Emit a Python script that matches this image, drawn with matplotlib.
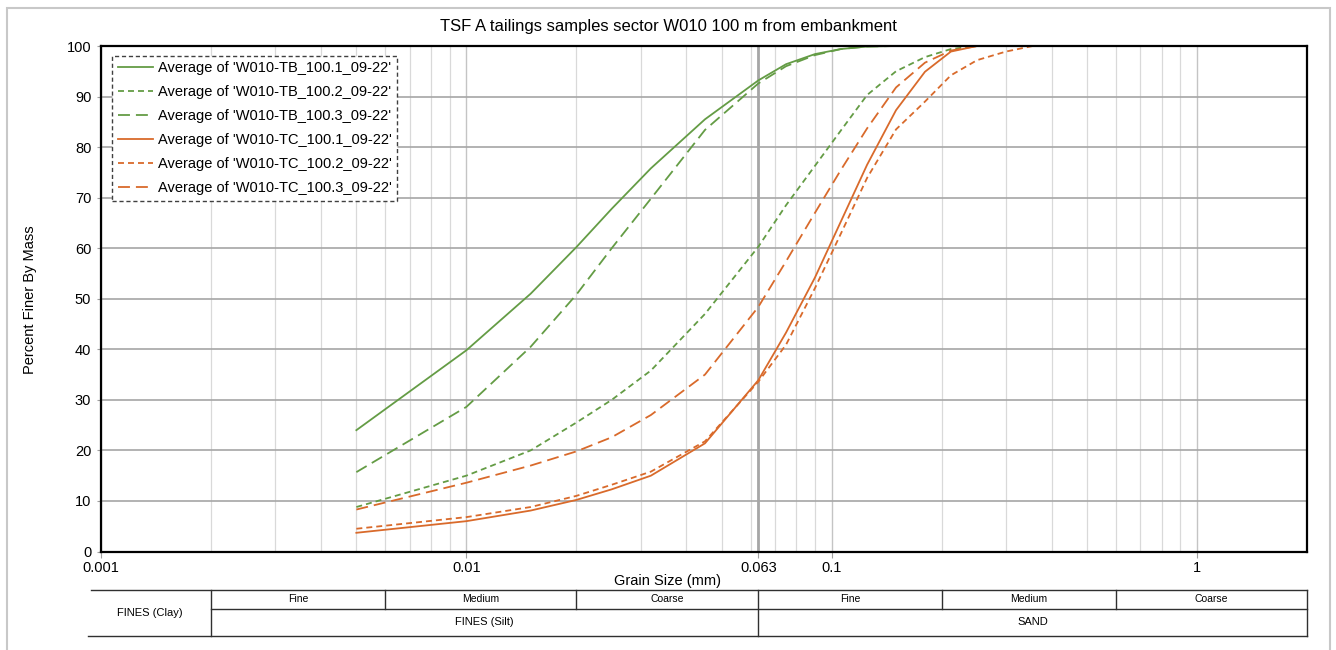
import matplotlib
matplotlib.use('Agg')
import numpy as np
import matplotlib.pyplot as plt
from matplotlib.patches import Rectangle
from matplotlib.ticker import LogLocator, NullFormatter

plt.rcParams['font.family'] = ['Liberation Sans', 'DejaVu Sans']
plt.rcParams['lines.scale_dashes'] = False

# grain sizes (mm) and percent finer for each averaged sample
size_mm = [0.005, 0.01, 0.015, 0.02, 0.025, 0.032, 0.045, 0.063, 0.075, 0.09,
           0.106, 0.125, 0.15, 0.18, 0.212, 0.25, 0.3, 0.355]
tb_1 = [24.0, 39.8, 51.0, 60.2, 67.8, 75.8, 85.5, 93.2, 96.4, 98.4,
        99.4, 99.9, 100, 100, 100, 100, 100, 100]
tb_2 = [8.8, 15.0, 20.0, 25.5, 30.0, 35.8, 47.0, 60.3, 68.5, 76.3,
        83.3, 90.3, 95.0, 97.8, 99.4, 100, 100, 100]
tb_3 = [15.7, 28.6, 40.5, 50.8, 60.0, 69.8, 83.4, 92.6, 96.0, 98.2,
        99.4, 99.9, 100, 100, 100, 100, 100, 100]
tc_1 = [3.7, 6.0, 8.1, 10.2, 12.3, 15.0, 21.4, 33.9, 43.3, 54.2,
        65.3, 76.5, 87.3, 94.9, 98.9, 100, 100, 100]
tc_2 = [4.5, 6.8, 8.8, 11.0, 13.2, 15.8, 21.8, 33.6, 40.9, 52.1,
        62.9, 73.9, 83.5, 89.0, 94.2, 97.2, 98.9, 100]
tc_3 = [8.3, 13.6, 17.0, 19.8, 22.6, 27.0, 35.0, 48.4, 57.4, 67.0,
        75.5, 83.7, 91.8, 96.7, 99.1, 100, 100, 100]

series_names = ["Average of 'W010-TB_100.1_09-22'",
                "Average of 'W010-TB_100.2_09-22'",
                "Average of 'W010-TB_100.3_09-22'",
                "Average of 'W010-TC_100.1_09-22'",
                "Average of 'W010-TC_100.2_09-22'",
                "Average of 'W010-TC_100.3_09-22'"]

# soil classification bands (BS 5930)
class_bounds = [0.002, 0.006, 0.02, 0.063, 0.2, 0.6, 2]
sub_labels = ['Fine', 'Medium', 'Coarse', 'Fine', 'Medium', 'Coarse']

x_ticks = [0.001, 0.01, 0.063, 0.1, 1]
x_tick_labels = ['0.001', '0.01', '0.063', '0.1', '1']

GREEN = '#649C45'
ORANGE = '#D96A2B'
solid = '-'
short_dash = (0, (4.3, 2.9))
long_dash = (0, (8.6, 4.3))

W, H = 1336, 650
def fx(px):
    return px / W
def fy(py):
    return 1 - py / H

fig = plt.figure(figsize=(W / 100, H / 100), dpi=100)
ax = fig.add_axes([fx(101), fy(551.5), fx(1307) - fx(101), fy(46) - fy(551.5)])

styles = [(GREEN, solid), (GREEN, short_dash), (GREEN, long_dash),
          (ORANGE, solid), (ORANGE, short_dash), (ORANGE, long_dash)]
for vals, name, (col, ls) in zip([tb_1, tb_2, tb_3, tc_1, tc_2, tc_3], series_names, styles):
    ax.plot(size_mm, vals, color=col, linestyle=ls, lw=1.3, label=name, zorder=3)

ax.set_xscale('log')
ax.set_xlim(0.001, 2)
ax.set_ylim(0, 100)
ax.set_yticks(range(0, 101, 10))
ax.set_xticks(x_ticks)
ax.set_xticklabels(x_tick_labels)
ax.xaxis.set_minor_locator(LogLocator(base=10, subs=np.arange(2, 10), numticks=20))
ax.xaxis.set_minor_formatter(NullFormatter())

ax.grid(axis='y', which='major', color='#a6a6a6', lw=1.2, zorder=1)
ax.grid(axis='x', which='minor', color='#d9d9d9', lw=0.9, zorder=1)
ax.grid(axis='x', which='major', color='#c4c4c4', lw=1.0, zorder=1)
ax.axvline(0.063, color='#a6a6a6', lw=2.0, zorder=2)
ax.set_axisbelow(True)

ax.tick_params(axis='x', which='major', length=4, color='#a0a0a0', pad=3, labelsize=10.5)
ax.tick_params(axis='x', which='minor', length=0)
ax.tick_params(axis='y', length=3, color='#a0a0a0', pad=4, labelsize=10.5)
for sp in ax.spines.values():
    sp.set_color('black')
    sp.set_linewidth(1.6)
    sp.set_zorder(4)

leg = ax.legend(loc='upper left', bbox_to_anchor=(0.0094, 0.981), borderaxespad=0,
                fontsize=10.5, handlelength=2.4, handletextpad=0.3,
                labelspacing=0.68, borderpad=0.4, fancybox=False, framealpha=1)
frame = leg.get_frame()
frame.set_edgecolor('#404040')
frame.set_linewidth(1.0)
frame.set_linestyle((0, (3, 2)))

fig.text(fx(668), fy(26), 'TSF A tailings samples sector W010 100 m from embankment',
         ha='center', va='center', fontsize=12)
fig.text(fx(30), fy(300), 'Percent Finer By Mass', rotation=90,
         ha='center', va='center', fontsize=10.5)
fig.text(fx(667), fy(581), 'Grain Size (mm)', ha='center', va='center', fontsize=10.5)

# classification table under the x axis
tax = fig.add_axes([fx(101), fy(636), fx(1307) - fx(101), fy(590) - fy(636)])
tax.set_xscale('log')
tax.set_xlim(0.001, 2)
tax.set_ylim(0, 1)
tax.axis('off')
mid = 0.59
lc = '#303030'
tax.plot([0.00094, 2], [1, 1], color=lc, lw=1.0, clip_on=False)
tax.plot([class_bounds[0], 2], [mid, mid], color=lc, lw=1.0, clip_on=False)
tax.plot([0.00092, 2], [0, 0], color=lc, lw=1.0, clip_on=False)
for b in class_bounds:
    y0 = 0 if b in (0.002, 0.063, 2) else mid
    tax.plot([b, b], [y0, 1], color=lc, lw=1.0, clip_on=False)
for a, b, lab in zip(class_bounds[:-1], class_bounds[1:], sub_labels):
    tax.text(np.sqrt(a * b), (1 + mid) / 2, lab, ha='center', va='center', fontsize=7.5)
tax.text(np.sqrt(0.00092 * 0.002), 0.5, 'FINES (Clay)', ha='center', va='center', fontsize=8)
tax.text(np.sqrt(0.002 * 0.063), mid / 2, 'FINES (Silt)', ha='center', va='center', fontsize=8)
tax.text(np.sqrt(0.063 * 2), mid / 2, 'SAND', ha='center', va='center', fontsize=8)

# outer chart frame
fig.add_artist(Rectangle((fx(7), fy(700)), fx(1330) - fx(7), fy(8) - fy(700),
                         transform=fig.transFigure, fill=False,
                         edgecolor='#c8c8c8', lw=1.5))

fig.savefig('out.png', dpi=100)
